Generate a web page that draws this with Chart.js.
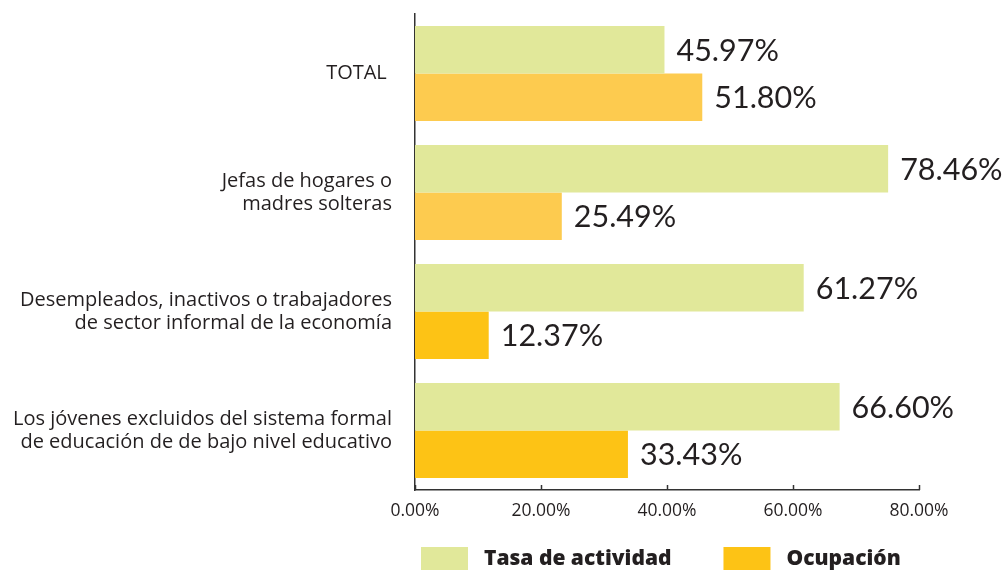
<!DOCTYPE html>
<html>
<head>
<meta charset="utf-8">
<script src="https://cdn.jsdelivr.net/npm/chart.js@4.4.1/dist/chart.umd.min.js"></script>
<style>
  html, body { margin: 0; padding: 0; background: #ffffff; }
  #wrap { width: 1005px; height: 570px; position: relative; }
</style>
</head>
<body>
<div id="wrap"><canvas id="c" width="1005" height="570"></canvas></div>
<script>
// ---- data ----
const categories = [
  ["TOTAL "],
  ["Jefas de hogares o", "madres solteras"],
  ["Desempleados, inactivos o trabajadores", "de sector informal de la economía"],
  ["Los jóvenes excluidos del sistema formal", "de educación de de bajo nivel educativo"]
];
const seriesNames = ["Tasa de actividad", "Ocupación"];
// bar lengths as drawn in the picture (%)
const tasaActividad = [39.6, 75.1, 61.7, 67.4];
const ocupacion = [45.6, 23.3, 11.7, 33.8];
// printed value labels
const tasaActividadLabels = ["45.97%", "78.46%", "61.27%", "66.60%"];
const ocupacionLabels = ["51.80%", "25.49%", "12.37%", "33.43%"];
const xTicks = [0, 20, 40, 60, 80];

const FONT = "Lato, 'Open Sans', sans-serif";
const LABEL_FONT = "'Open Sans', Lato, sans-serif";
const green = "#E1E89A";
const orangeLight = "#FDCB4F";
const orangeDark = "#FDC315";
const ocupacionColors = [orangeLight, orangeLight, orangeDark, orangeDark];

const valueLabelPlugin = {
  id: 'valueLabels',
  afterDatasetsDraw(chart) {
    const ctx = chart.ctx;
    const texts = [tasaActividadLabels, ocupacionLabels];
    ctx.save();
    ctx.font = "30.5px " + FONT;
    ctx.fillStyle = "#231f20";
    ctx.textBaseline = "middle";
    ctx.textAlign = "left";
    chart.data.datasets.forEach((ds, di) => {
      const meta = chart.getDatasetMeta(di);
      meta.data.forEach((el, i) => {
        ctx.fillText(texts[di][i], el.x + 12, el.y + 1);
      });
    });
    ctx.restore();
  }
};

const innerTicksPlugin = {
  id: 'innerTicks',
  afterDraw(chart) {
    const ctx = chart.ctx;
    const sx = chart.scales.x;
    const bottom = chart.chartArea.bottom;
    ctx.save();
    ctx.strokeStyle = "#333";
    ctx.lineWidth = 1.5;
    xTicks.forEach(v => {
      const x = Math.round(sx.getPixelForValue(v)) + 0.5;
      ctx.beginPath();
      ctx.moveTo(x, bottom - 5);
      ctx.lineTo(x, bottom);
      ctx.stroke();
    });
    ctx.restore();
  }
};

const legendPlugin = {
  id: 'customLegend',
  afterDraw(chart) {
    const ctx = chart.ctx;
    const area = chart.chartArea;
    ctx.save();
    ctx.font = "800 21px " + LABEL_FONT;
    ctx.textBaseline = "middle";
    let x = area.left + 6;
    const top = 547;
    const items = [[seriesNames[0], green], [seriesNames[1], orangeDark]];
    items.forEach(([name, col]) => {
      ctx.fillStyle = col;
      ctx.fillRect(x, top, 47, 26);
      ctx.fillStyle = "#231f20";
      ctx.fillText(name, x + 63, top + 12);
      x += 63 + ctx.measureText(name).width + 52;
    });
    ctx.restore();
  }
};

new Chart(document.getElementById('c'), {
  type: 'bar',
  data: {
    labels: categories,
    datasets: [
      { label: seriesNames[0], data: tasaActividad, backgroundColor: green, borderWidth: 0 },
      { label: seriesNames[1], data: ocupacion, backgroundColor: ocupacionColors, borderWidth: 0 }
    ]
  },
  options: {
    indexAxis: 'y',
    responsive: false,
    animation: false,
    layout: { padding: { top: 14, right: 86, bottom: 37, left: 0 } },
    datasets: { bar: { barPercentage: 1.0, categoryPercentage: 0.8 } },
    plugins: { legend: { display: false }, tooltip: { enabled: false } },
    scales: {
      x: {
        min: 0, max: 80,
        afterBuildTicks(scale) { scale.ticks = xTicks.map(v => ({ value: v })); },
        afterFit(scale) { scale.paddingLeft = 0; scale.paddingRight = 0; },
        grid: { display: false, drawOnChartArea: false, drawTicks: false },
        border: { display: true, color: "#333", width: 1.5 },
        ticks: {
          color: "#231f20",
          font: { family: LABEL_FONT, size: 17.5 },
          padding: 11,
          callback: v => Number(v).toFixed(2) + "%"
        }
      },
      y: {
        afterFit(scale) { scale.width = 415; scale.paddingTop = 0; scale.paddingBottom = 0; },
        grid: { display: false, drawTicks: false },
        border: { display: true, color: "#333", width: 1.5 },
        ticks: {
          color: "#231f20",
          font: { family: LABEL_FONT, size: 20, lineHeight: 1.15 },
          padding: 23,
          crossAlign: 'near'
        }
      }
    }
  },
  plugins: [valueLabelPlugin, innerTicksPlugin, legendPlugin]
});
</script>
</body>
</html>
